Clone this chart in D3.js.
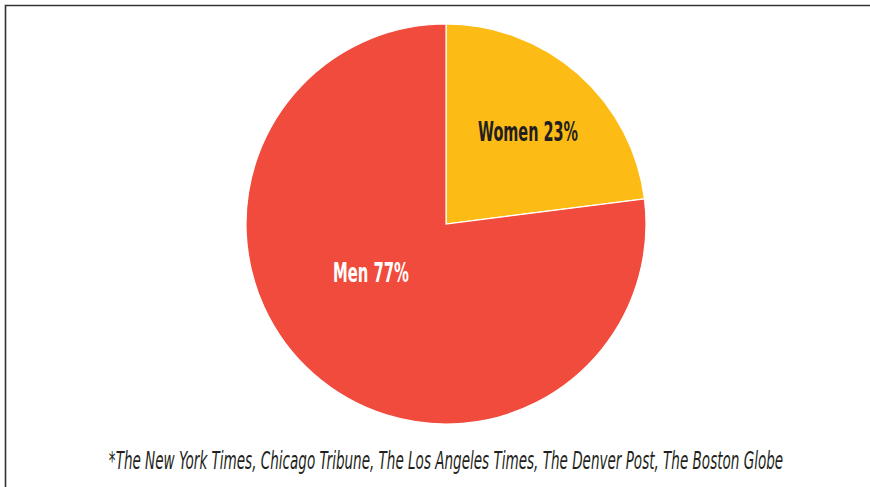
<!DOCTYPE html>
<html>
<head>
<meta charset="utf-8">
<script src="https://cdn.jsdelivr.net/npm/d3@7"></script>
<style>
  body { margin: 0; background: #fff; }
  svg text { font-family: "DejaVu Sans Condensed", "DejaVu Sans", sans-serif; font-stretch: condensed; }
</style>
</head>
<body>
<svg id="viz_area" width="870" height="487"></svg>
<script>
const categories = ['Women', 'Men']
const shares = [23, 77]
const colors = ['#FDBC15', '#F04B3D']
const labelColors = ['#231f20', '#ffffff']
// where each label sits: radius as share of pie radius, angle in the slice (0..1)
const labelRadius = [0.62, 0.445]
const labelAlong = [0.5, 0.558]
const labelWidth = [100, 76]
const footnote = '*The New York Times, Chicago Tribune, The Los Angeles Times, The Denver Post, The Boston Globe'

const svg = d3.select('#viz_area')

// squeeze a text to the given width (the reference uses a condensed face)
function squeeze(sel, width) {
    sel.each(function () {
        const w = this.getComputedTextLength()
        const t = d3.select(this).attr('transform') || ''
        d3.select(this).attr('transform', t + ' scale(' + (width / w) + ',1)')
    })
}

// frame, only top and left edges show
svg.append('path')
    .attr('d', 'M5.5,487V5.5H870')
    .attr('fill', 'none')
    .attr('stroke', '#333')
    .attr('stroke-width', 1.6)

const center = { x: 446, y: 224 }
const radius = 200

const data = categories.map(function (c, i) {
    return { name: c, value: shares[i], i: i }
})

const pie = d3.pie()
    .sort(null)
    .value(function (d) { return d.value })

const arc = d3.arc()
    .innerRadius(0)
    .outerRadius(radius)

const g = svg.append('g')
    .attr('transform', 'translate(' + center.x + ',' + center.y + ')')

const slices = pie(data)

g.selectAll('path.slice')
    .data(slices)
    .enter()
    .append('path')
    .attr('class', 'slice')
    .attr('d', arc)
    .attr('fill', function (d) { return colors[d.data.i] })
    .attr('stroke', '#fff')
    .attr('stroke-width', 1.2)

g.selectAll('text.label')
    .data(slices)
    .enter()
    .append('text')
    .attr('class', 'label')
    .attr('transform', function (d) {
        const i = d.data.i
        const a = d.startAngle + (d.endAngle - d.startAngle) * labelAlong[i]
        const r = radius * labelRadius[i]
        return 'translate(' + (Math.sin(a) * r) + ',' + (-Math.cos(a) * r) + ')'
    })
    .attr('text-anchor', 'middle')
    .attr('dy', '0.36em')
    .attr('font-size', 27)
    .attr('font-weight', 'bold')
    .attr('fill', function (d) { return labelColors[d.data.i] })
    .text(function (d) { return d.data.name + ' ' + d.data.value + '%' })
    .each(function (d) { squeeze(d3.select(this), labelWidth[d.data.i]) })

svg.append('text')
    .attr('transform', 'translate(446,469)')
    .attr('text-anchor', 'middle')
    .attr('font-size', 24)
    .attr('font-style', 'italic')
    .attr('fill', '#231f20')
    .text(footnote)
    .call(squeeze, 675)
</script>
</body>
</html>
